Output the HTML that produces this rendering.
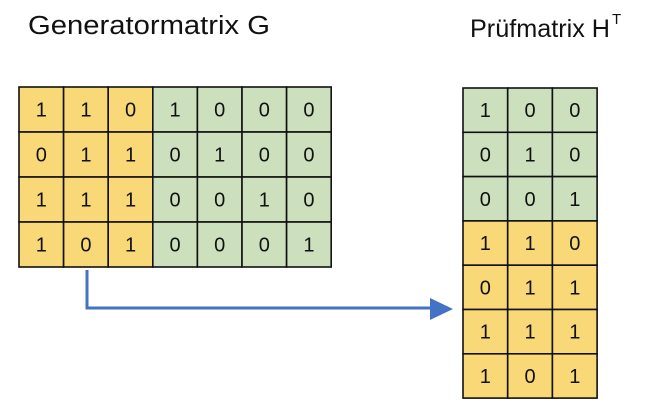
<!DOCTYPE html>
<html><head><meta charset="utf-8"><style>
html,body{margin:0;padding:0;background:#fff;}
svg{display:block;}
text{font-family:"Liberation Sans",sans-serif;fill:#111;}
</style></head><body>
<svg id="s" width="655" height="403" viewBox="0 0 655 403">
<text x="28" y="34" font-size="25.5" textLength="242" lengthAdjust="spacingAndGlyphs">Generatormatrix G</text>
<text x="470" y="37" font-size="25" textLength="140" lengthAdjust="spacingAndGlyphs">Prüfmatrix H</text>
<text x="612" y="24" font-size="15">T</text>
<g id="gm"></g>
<g id="hm"></g>
<path d="M87 270 V308 H432" fill="none" stroke="#4472C4" stroke-width="3"/>
<polygon points="430,298 453,309 430,320" fill="#4472C4"/>
</svg>
<script>
const G = [[1,1,0,1,0,0,0],[0,1,1,0,1,0,0],[1,1,1,0,0,1,0],[1,0,1,0,0,0,1]];
const H = [[1,0,0],[0,1,0],[0,0,1],[1,1,0],[0,1,1],[1,1,1],[1,0,1]];
const YEL = '#F8D877', GRN = '#CDE0BE';
const NS = 'http://www.w3.org/2000/svg';
function drawMatrix(g, m, x0, y0, cw, rh, colorFn){
  m.forEach((row,r)=>row.forEach((v,c)=>{
    const rect=document.createElementNS(NS,'rect');
    rect.setAttribute('x',x0+c*cw);rect.setAttribute('y',y0+r*rh);
    rect.setAttribute('width',cw);rect.setAttribute('height',rh);
    rect.setAttribute('fill',colorFn(r,c));rect.setAttribute('stroke','#111');rect.setAttribute('stroke-width','1.6');
    
    
    g.appendChild(rect);
    const t=document.createElementNS(NS,'text');
    t.setAttribute('x',x0+c*cw+cw/2);t.setAttribute('y',y0+r*rh+rh/2+7);
    t.setAttribute('font-size','20');t.setAttribute('text-anchor','middle');
    t.textContent=v;
    
    
    g.appendChild(t);
  }));
}
drawMatrix(document.getElementById('gm'), G, 19, 87, 44.6, 45, (r,c)=>c<3?YEL:GRN);
drawMatrix(document.getElementById('hm'), H, 463, 88, 44.7, 44.3, (r,c)=>r<3?GRN:YEL);
</script>
</body></html>
